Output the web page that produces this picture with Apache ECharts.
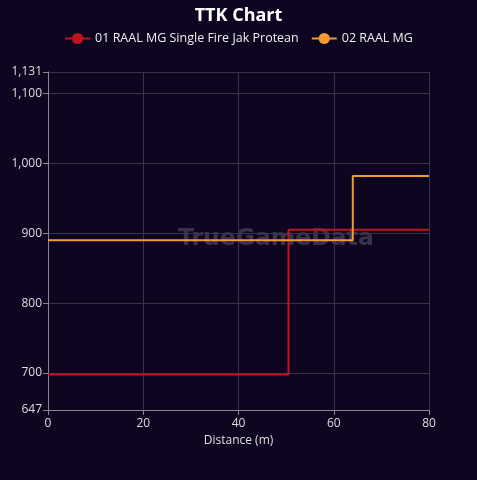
<!DOCTYPE html>
<html>
<head>
<meta charset="utf-8">
<script src="https://cdn.jsdelivr.net/npm/echarts@6/dist/echarts.min.js"></script>
<style>
  html, body { margin: 0; padding: 0; background: #0e0621; }
  #main { width: 477px; height: 480px; }
</style>
</head>
<body>
<div id="main"></div>
<script>
// step points: [distance, ttk]
const seriesNames = ['01 RAAL MG Single Fire Jak Protean', '02 RAAL MG']
const redPoints = [[0, 698], [50.5, 905], [80, 905]]
const orangePoints = [[0, 890], [64, 982], [80, 982]]
const colors = ['#c0141a', '#f59a33']
const yMin = 647
const yMax = 1131

const myChart = echarts.init(document.getElementById('main'))
myChart.setOption({
  backgroundColor: '#0e0621',
  animation: false,
  title: {
    text: 'TTK Chart',
    left: 'center',
    top: 2,
    textStyle: { color: '#fff', fontSize: 18, fontWeight: 'bold', fontFamily: 'Open Sans' }
  },
  legend: {
    top: 27,
    itemWidth: 25,
    itemHeight: 14,
    itemGap: 12,
    textStyle: { color: '#eee', fontSize: 12.5, fontFamily: 'Open Sans' },
    data: seriesNames
  },
  graphic: [{
    type: 'text',
    left: 178,
    top: 227,
    z: 0,
    style: {
      text: 'TrueGameData',
      fill: 'rgba(110,105,130,0.45)',
      font: 'bold 23.5px "DejaVu Sans"'
    }
  }],
  grid: { left: 48, right: 48, top: 72, bottom: 70 },
  xAxis: {
    type: 'value',
    min: 0,
    max: 80,
    interval: 20,
    name: 'Distance (m)',
    nameLocation: 'middle',
    nameGap: 21,
    nameTextStyle: { color: '#ddd', fontSize: 12, fontFamily: 'Open Sans' },
    axisLine: { lineStyle: { color: '#888' } },
    axisTick: { show: true, lineStyle: { color: '#888' } },
    axisLabel: { color: '#ddd', fontSize: 12, fontFamily: 'Open Sans', margin: 8 },
    splitLine: { lineStyle: { color: '#3a3346' } }
  },
  yAxis: {
    type: 'value',
    min: yMin,
    max: yMax,
    axisLine: { show: true, lineStyle: { color: '#888' } },
    axisTick: { show: true, lineStyle: { color: '#888' } },
    axisLabel: { color: '#ddd', fontSize: 12, fontFamily: 'Open Sans', margin: 6 },
    splitLine: { lineStyle: { color: '#3a3346' } }
  },
  series: [
    {
      name: seriesNames[0],
      type: 'line',
      step: 'end',
      data: redPoints,
      color: colors[0],
      symbol: 'circle',
      showSymbol: false,
      symbolSize: 8,
      lineStyle: { width: 2 },
      z: 3
    },
    {
      name: seriesNames[1],
      type: 'line',
      step: 'end',
      data: orangePoints,
      color: colors[1],
      symbol: 'circle',
      showSymbol: false,
      symbolSize: 8,
      lineStyle: { width: 2 },
      z: 3
    }
  ]
})
</script>
</body>
</html>
